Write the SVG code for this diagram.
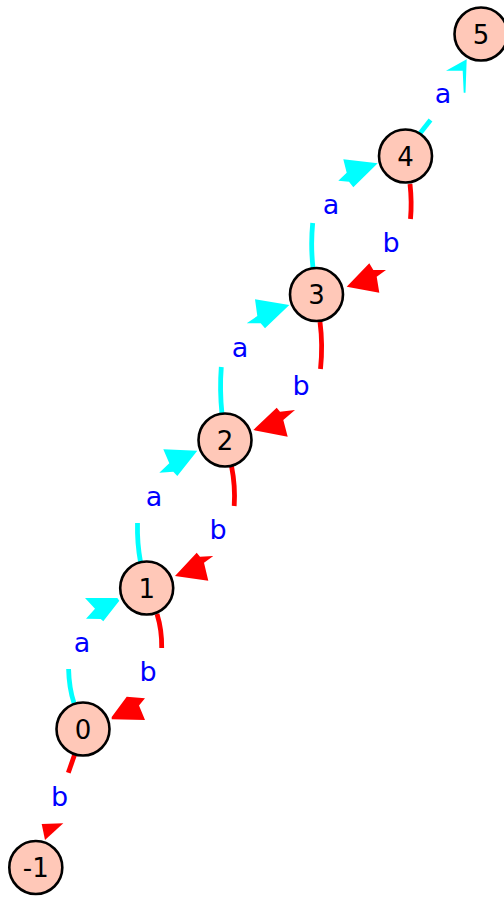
<svg xmlns="http://www.w3.org/2000/svg" width="504" height="897" viewBox="0 0 504 897">
<style>
.ea{fill:none;stroke:#00ffff;stroke-width:4.8}
.eb{fill:none;stroke:#ff0000;stroke-width:4.8}
.ha{fill:#00ffff}
.hb{fill:#ff0000}
.lbl{font-family:"DejaVu Sans",sans-serif;font-size:27px;fill:#0000ff;text-anchor:middle}
.nd circle{fill:#ffc8b8;stroke:#000;stroke-width:2.6}
.nd text{font-family:"DejaVu Sans",sans-serif;font-size:26px;fill:#000;text-anchor:middle}
</style>
<rect width="504" height="897" fill="#fff"/>
<g id="connectors">
  <g id="e0-1">
    <path class="ea" d="M74,703 Q69,688 68.6,669"/>
    <polygon class="ha" points="85,598 117.3,598 119.3,600.7 105,619 103.3,621.3 100.7,619 86,618.7 95,608.7"/>
    <text class="lbl" x="82" y="651.5">a</text>
  </g>
  <g id="e1-2">
    <path class="ea" d="M140.5,562 Q137,543 137.5,523"/>
    <polygon class="ha" points="163.3,449.3 197.3,450.7 177.3,476 173.3,471.7 159.3,472.7 169.3,463.3"/>
    <text class="lbl" x="154" y="505.5">a</text>
  </g>
  <g id="e2-3">
    <path class="ea" d="M222,414 Q219.5,390 221.3,367"/>
    <polygon class="ha" points="255,299.3 289.3,305 265,328.3 260.7,323.3 246.7,323.3 257.3,316"/>
    <text class="lbl" x="240" y="356.5">a</text>
  </g>
  <g id="e3-4">
    <path class="ea" d="M313,268 Q310.5,245 312.7,223"/>
    <polygon class="ha" points="343.3,159.3 377.7,163.3 353.3,187.3 349,181.7 338.3,180.7 346.7,172.7"/>
    <text class="lbl" x="331" y="213.5">a</text>
  </g>
  <g id="e4-5">
    <path class="ea" d="M419.5,134 L430.5,120"/>
    <polygon class="ha" points="446,70.7 466.7,59.3 465.5,92.7 463.7,92.7 462.7,70.7"/>
    <text class="lbl" x="443" y="102.5">a</text>
  </g>
  <g id="e1-0">
    <path class="eb" d="M157,614 Q162,630 161.7,648"/>
    <polygon class="hb" points="111.7,717 126.7,696.7 145,698.3 139,705.5 145,720 111.7,719.3"/>
    <text class="lbl" x="148" y="681">b</text>
  </g>
  <g id="e2-1">
    <path class="eb" d="M231.5,466 Q235.5,486 234.2,506"/>
    <polygon class="hb" points="175,576 196.7,552.7 200,556.7 213.3,556 204,562.7 208.3,580.7"/>
    <text class="lbl" x="218" y="539">b</text>
  </g>
  <g id="e3-2">
    <path class="eb" d="M320,322 Q323,345 320.5,369"/>
    <polygon class="hb" points="253.3,430 276.7,407.7 280,411.7 295,410 283.3,420 287.7,436.7"/>
    <text class="lbl" x="301" y="395">b</text>
  </g>
  <g id="e4-3">
    <path class="eb" d="M410,184 Q412,202 410.5,219"/>
    <polygon class="hb" points="346.7,286.7 369.3,263.3 373.3,270 386,270 376.7,276.7 379.3,292.7"/>
    <text class="lbl" x="391" y="252">b</text>
  </g>
  <g id="e0-m1">
    <path class="eb" d="M74.5,755 L68.3,772.7"/>
    <polygon class="hb" points="41.7,824 63.3,823.3 45,840"/>
    <text class="lbl" x="59.5" y="806">b</text>
  </g>
</g>
<g id="node5" class="nd"><circle cx="481" cy="34" r="26.5"/><text x="481" y="43.5">5</text></g>
<g id="node4" class="nd"><circle cx="405.5" cy="156" r="26.5"/><text x="405.5" y="165.5">4</text></g>
<g id="node3" class="nd"><circle cx="316.5" cy="294.5" r="26.5"/><text x="316.5" y="304">3</text></g>
<g id="node2" class="nd"><circle cx="225" cy="440" r="26.5"/><text x="225" y="449.5">2</text></g>
<g id="node1" class="nd"><circle cx="146.7" cy="588" r="26.5"/><text x="146.7" y="597.5">1</text></g>
<g id="node0" class="nd"><circle cx="83" cy="729" r="26.5"/><text x="83" y="738.5">0</text></g>
<g id="nodem1" class="nd"><circle cx="35.8" cy="867.5" r="26.5"/><text x="35.8" y="877">-1</text></g>
</svg>
